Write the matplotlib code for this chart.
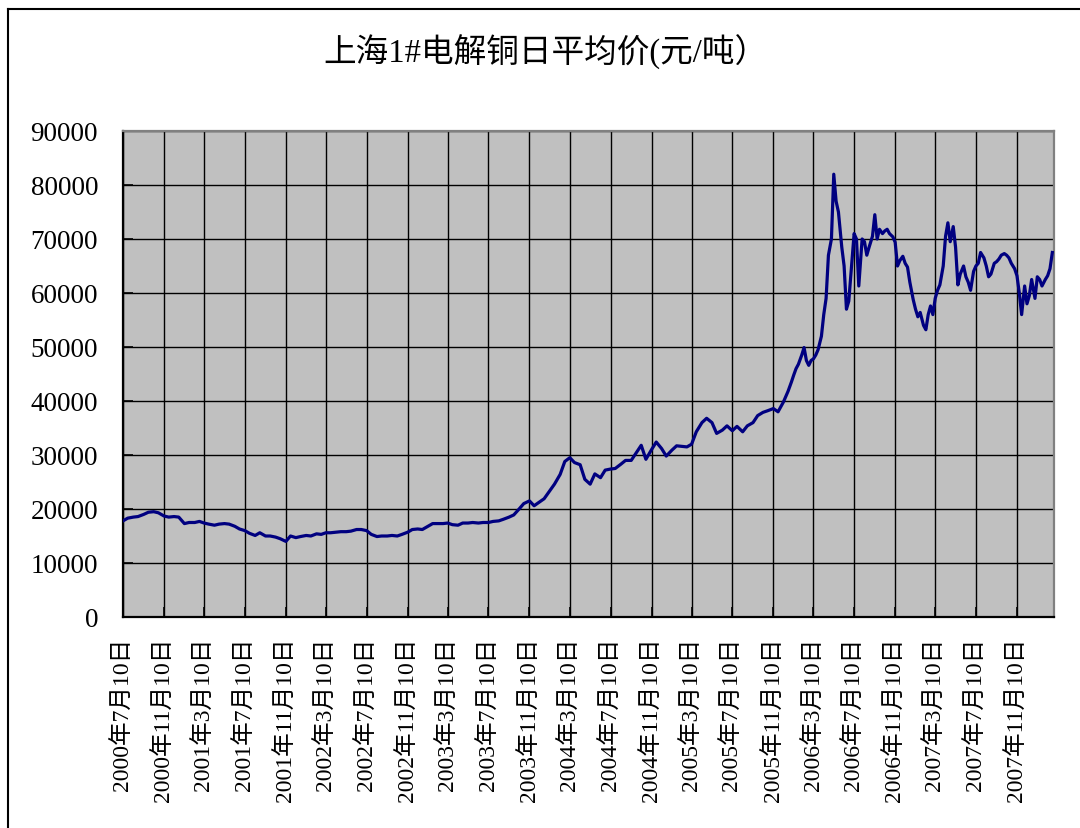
import matplotlib
matplotlib.use("Agg")
import matplotlib.pyplot as plt
from matplotlib.lines import Line2D
import pandas as pd

# ---------------- data ----------------
title = "上海1#电解铜日平均价(元/吨）"

tick_labels = [
    "2000年7月10日", "2000年11月10日", "2001年3月10日", "2001年7月10日",
    "2001年11月10日", "2002年3月10日", "2002年7月10日", "2002年11月10日",
    "2003年3月10日", "2003年7月10日", "2003年11月10日", "2004年3月10日",
    "2004年7月10日", "2004年11月10日", "2005年3月10日", "2005年7月10日",
    "2005年11月10日", "2006年3月10日", "2006年7月10日", "2006年11月10日",
    "2007年3月10日", "2007年7月10日", "2007年11月10日",
]
axis_end = "2008-02-29"

y_ticks = [0, 10000, 20000, 30000, 40000, 50000, 60000, 70000, 80000, 90000]

# 2000-07 .. 2005-12, prices on the 10th and 24th of each month
early_months = ("2000-07", "2005-12")
early_days = (10, 24)
early_prices = [
    17800, 18300, 18500, 18600, 19000, 19400, 19500, 19300,
    18700, 18500, 18600, 18500, 17300, 17500, 17500, 17700,
    17400, 17200, 17000, 17200, 17300, 17200, 16800, 16300,
    16000, 15500, 15100, 15600, 15000, 15000, 14800, 14500,
    14000, 15000, 14700, 14900, 15100, 15000, 15400, 15300,
    15600, 15600, 15700, 15800, 15800, 15900, 16200, 16200,
    16000, 15300, 14900, 15000, 15000, 15100, 15000, 15300,
    15700, 16200, 16300, 16200, 16800, 17300, 17300, 17300,
    17400, 17100, 17000, 17400, 17400, 17500, 17400, 17500,
    17500, 17700, 17800, 18100, 18500, 18900, 20000, 21000,
    21500, 20600, 21300, 21900, 23400, 24600, 26400, 28800,
    29500, 28600, 28200, 25500, 24600, 26500, 25800, 27200,
    27400, 27500, 28300, 29000, 29000, 30300, 31800, 29200,
    31000, 32400, 31200, 29800, 30900, 31700, 31600, 31500,
    32000, 34300, 36000, 36800, 36000, 34000, 34600, 35400,
    34500, 35300, 34300, 35400, 36000, 37300, 37900, 38200,
    38600, 38000, 39800, 41800,
]

# 2006-01 .. 2008-02, prices on the 3rd, 10th, 17th and 24th of each month
late_months = ("2006-01", "2008-02")
late_days = (3, 10, 17, 24)
late_prices = [
    43500, 44800, 46000, 46800,   # 2006-01
    48500, 49900, 47500, 46600,
    47500, 47800, 48500, 49500,
    52000, 56000, 59000, 67000,
    70000, 82000, 77000, 75000,   # 2006-05
    68500, 65000, 57000, 58500,
    65500, 71000, 70000, 61300,
    70000, 69500, 67000, 68500,
    70500, 74500, 70000, 71800,   # 2006-09
    71000, 71500, 71800, 71000,
    70400, 69400, 65000, 66000,
    66800, 65500, 64800, 62000,
    58800, 57000, 55600, 56400,   # 2007-01
    54000, 53200, 56000, 57600,
    56000, 59000, 60500, 61500,
    65000, 70500, 73000, 69500,
    72300, 68500, 61500, 63500,   # 2007-05
    65000, 63000, 62000, 60500,
    64000, 65000, 65500, 67500,
    66500, 65000, 63000, 63500,
    65500, 65800, 66300, 67000,   # 2007-09
    67300, 67000, 66500, 65500,
    64500, 63200, 60000, 56000,
    61300, 58000, 59500, 62500,
    59000, 63000, 62500, 61300,   # 2008-01
    62500, 63200, 64500, 67500,
]


def month_day_dates(months, days):
    periods = pd.period_range(months[0], months[1], freq="M")
    return [p.to_timestamp() + pd.Timedelta(days=d - 1) for p in periods for d in days]


dates = month_day_dates(early_months, early_days) + month_day_dates(late_months, late_days)
prices = early_prices + late_prices
tick_dates = pd.to_datetime(tick_labels, format="%Y年%m月%d日")

# ---------------- figure ----------------
W, H = 1080, 829
fig = plt.figure(figsize=(W / 100, H / 100), dpi=100)
fig.patch.set_facecolor("white")

left, right, top, bottom = 123, 1054, 132, 618
ax = fig.add_axes([left / W, 1 - bottom / H, (right - left) / W, (bottom - top) / H])
ax.set_facecolor("#C0C0C0")

ax.plot(dates, prices, color="#000080", lw=2.3, zorder=3, solid_joinstyle="round")

ax.set_xlim(tick_dates[0], pd.Timestamp(axis_end))
ax.set_ylim(y_ticks[0], y_ticks[-1])
ax.set_yticks(y_ticks)
ax.set_yticklabels([str(v) for v in y_ticks], family=["Liberation Serif"], fontsize=19.5)
ax.set_xticks(tick_dates)
ax.set_xticklabels(tick_labels, rotation=90, fontsize=17,
                   family=["Liberation Serif", "Noto Sans CJK SC"])

ax.grid(True, color="black", lw=1.0, zorder=1)
ax.tick_params(axis="y", direction="in", length=7, width=1.2, pad=18, colors="black")
ax.tick_params(axis="x", direction="in", length=7, width=1.2, pad=14, colors="black")

for s in ("left", "bottom"):
    ax.spines[s].set_color("black")
    ax.spines[s].set_linewidth(1.6)
for s in ("top", "right"):
    ax.spines[s].set_color("#808080")
    ax.spines[s].set_linewidth(1.6)

fig.text(0.505, 1 - 52 / H, title, ha="center", va="center", fontsize=23.5,
         family=["Liberation Serif", "Noto Sans CJK SC"])

# outer chart border (left and top visible)
fig.add_artist(Line2D([8 / W, 8 / W], [0, 1 - 10 / H], color="black", lw=1.5))
fig.add_artist(Line2D([8 / W, 1], [1 - 10 / H, 1 - 10 / H], color="black", lw=1.5))

fig.savefig("out.png", dpi=100)
